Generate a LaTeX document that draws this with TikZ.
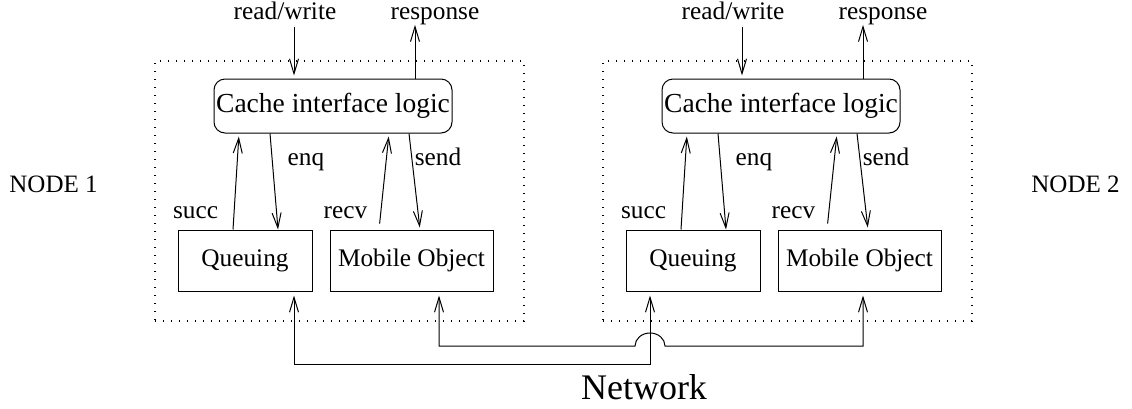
\documentclass[tikz,border=0pt]{standalone}
\usepackage{fontspec}
\setmainfont{Liberation Serif}
\usetikzlibrary{arrows.meta}

\begin{document}
\begin{tikzpicture}[x=1pt,y=-1pt,
  line width=1pt,
  arr/.style={-{Straight Barb[length=15pt,width=9pt,line width=1pt]}},
  biarr/.style={{Straight Barb[length=15pt,width=9pt,line width=1pt]}-{Straight Barb[length=15pt,width=9pt,line width=1pt]}},
  lbl/.style={anchor=base,inner sep=0pt,font=\fontsize{25.3}{30}\selectfont},
  cachebox/.style={draw,rounded corners=11pt,minimum width=238pt,minimum height=54pt,
    inner sep=0pt,font=\fontsize{27.5}{32}\selectfont},
  unitbox/.style={draw,minimum height=61pt,inner sep=0pt,font=\fontsize{25.3}{30}\selectfont},
  frame/.style={draw,line width=1.3pt,dash pattern=on 1.3pt off 6.7pt,minimum width=369pt,minimum height=260pt,inner sep=0pt}]

\useasboundingbox (0,0) rectangle (1132,408);

% dotted outlines of the two nodes
\node[frame] (frame1) at (339.5,191) {};
\node[frame] (frame2) at (787.5,191) {};

% node 1
\node[cachebox] (cache1) at (333,106) {Cache interface logic};
\node[unitbox,minimum width=134pt] (q1) at (245,260.5) {Queuing};
\node[unitbox,minimum width=163pt] (m1) at (411.5,260.5) {Mobile Object};

% node 2
\node[cachebox] (cache2) at (781,106) {Cache interface logic};
\node[unitbox,minimum width=134pt] (q2) at (693,260.5) {Queuing};
\node[unitbox,minimum width=163pt] (m2) at (859.5,260.5) {Mobile Object};

% labels
\node[lbl] (rw1) at (285,19) {read/write};
\node[lbl] (resp1) at (435,19) {response};
\node[lbl] (rw2) at (733,19) {read/write};
\node[lbl] (resp2) at (883,19) {response};

\node[lbl] (succ1) at (195.5,218) {succ};
\node[lbl] (enq1) at (306,165) {enq};
\node[lbl] (recv1) at (345.5,218) {recv};
\node[lbl] (send1) at (438,165) {send};

\node[lbl] (succ2) at (643.5,218) {succ};
\node[lbl] (enq2) at (754,165) {enq};
\node[lbl] (recv2) at (793.5,218) {recv};
\node[lbl] (send2) at (886,165) {send};

\node[lbl,font=\fontsize{25}{30}\selectfont] (n1) at (53.5,192) {NODE 1};
\node[lbl,font=\fontsize{25}{30}\selectfont] (n2) at (1075.5,192) {NODE 2};
\node[lbl,font=\fontsize{36}{42}\selectfont] (net) at (644,399) {Network};

% request and response lines
\draw[arr,shorten <=7pt,shorten >=3pt] ([xshift=9pt]rw1.south) -- ([xshift=-39pt]cache1.north);
\draw[arr] ([xshift=82pt]cache1.north) -- ([xshift=-20pt]resp1.south);
\draw[arr,shorten <=7pt,shorten >=3pt] ([xshift=9pt]rw2.south) -- ([xshift=-39pt]cache2.north);
\draw[arr] ([xshift=82pt]cache2.north) -- ([xshift=-20pt]resp2.south);

% internal lines, node 1
\draw[arr,shorten >=3pt] ([xshift=-12pt]q1.north) -- ([xshift=-94pt]cache1.south);
\draw[arr] ([xshift=-63pt]cache1.south) -- ([xshift=33pt]q1.north);
\draw[arr,shorten <=6pt,shorten >=3pt] ([xshift=-32.5pt]m1.north) -- ([xshift=56pt]cache1.south);
\draw[arr,shorten >=2pt] ([xshift=76pt]cache1.south) -- ([xshift=8.5pt]m1.north);

% internal lines, node 2
\draw[arr,shorten >=3pt] ([xshift=-12pt]q2.north) -- ([xshift=-94pt]cache2.south);
\draw[arr] ([xshift=-63pt]cache2.south) -- ([xshift=33pt]q2.north);
\draw[arr,shorten <=6pt,shorten >=3pt] ([xshift=-32.5pt]m2.north) -- ([xshift=56pt]cache2.south);
\draw[arr,shorten >=2pt] ([xshift=76pt]cache2.south) -- ([xshift=8.5pt]m2.north);

% network links
\coordinate (qa) at ([xshift=49pt,yshift=-4pt]q1.south);
\coordinate (qb) at ([xshift=-43pt,yshift=-4pt]q2.south);
\coordinate (ma) at ([xshift=27.5pt,yshift=-4pt]m1.south);
\coordinate (mb) at ([xshift=3.5pt,yshift=-4pt]m2.south);
\coordinate (lowrail) at (0,364);
\coordinate (highrail) at (0,346);
\coordinate (hop) at (qb |- highrail);

\draw[biarr] (qa) -- (qa |- lowrail) -- (qb |- lowrail) -- (qb);
\draw[biarr] (ma) -- (ma |- highrail) -- ([xshift=-15pt]hop)
  arc[start angle=180,end angle=0,x radius=15pt,y radius=13pt]
  -- (mb |- highrail) -- (mb);

\end{tikzpicture}
\end{document}
